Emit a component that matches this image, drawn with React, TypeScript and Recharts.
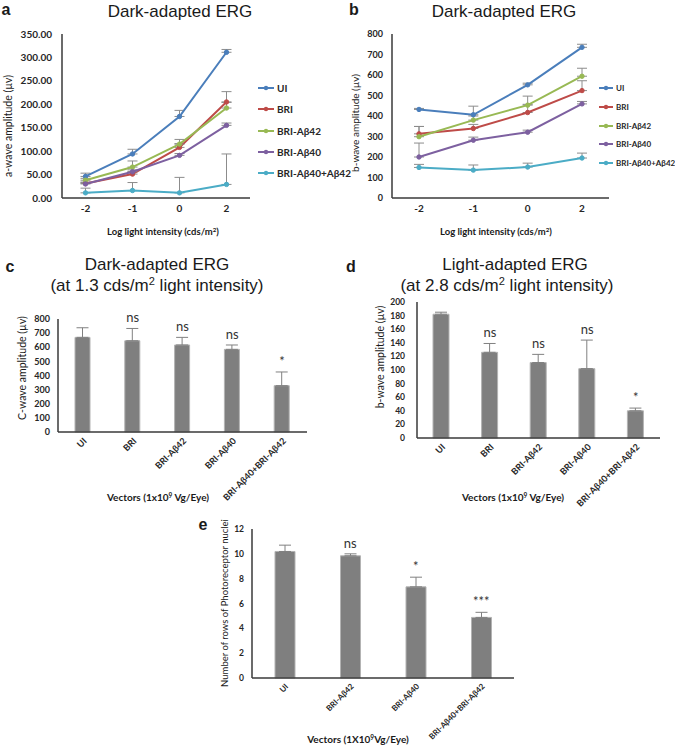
import React from 'react'
import { LineChart, Line, XAxis, YAxis, ErrorBar, ComposedChart, Bar, LabelList } from 'recharts'

const intensities = ['-2', '-1', '0', '2']
const groups = ['UI', 'BRI', 'BRI-Aβ42', 'BRI-Aβ40', 'BRI-Aβ40+Aβ42']
const groupColors = ['#4a7ebb', '#be4b48', '#98b954', '#7d60a0', '#4bacc6']

// a: dark-adapted a-wave (µv), one row per group, one column per intensity
const aWave = [
  [46, 94, 174, 311],
  [31, 51, 108, 205],
  [38, 66, 115, 192],
  [30, 56, 91, 155],
  [11, 16, 11, 29],
]
const aWaveErr = [
  [7, 10, 13, 6],
  [3, 5, 8, 22],
  [4, 13, 10, 12],
  [3, 4, 4, 5],
  [10, 17, 33, 65],
]
const aTicks = [0, 50, 100, 150, 200, 250, 300, 350]

// b: dark-adapted b-wave (µv)
const bWave = [
  [432, 406, 552, 735],
  [313, 339, 417, 524],
  [299, 380, 453, 594],
  [200, 282, 321, 459],
  [149, 136, 151, 195],
]
const bWaveErr = [
  [5, 42, 8, 15],
  [36, 20, 40, 48],
  [50, 20, 44, 39],
  [68, 15, 10, 12],
  [15, 25, 19, 24],
]
const bTicks = [0, 100, 200, 300, 400, 500, 600, 700, 800]

// c: c-wave at 1.3 cds/m2
const vectors5 = ['UI', 'BRI', 'BRI-Aβ42', 'BRI-Aβ40', 'BRI-Aβ40+BRI-Aβ42']
const cWave = [670, 646, 616, 585, 328]
const cWaveErr = [68, 87, 54, 31, 97]
const cSig = ['', 'ns', 'ns', 'ns', '*']
const cTicks = [0, 100, 200, 300, 400, 500, 600, 700, 800]

// d: light-adapted b-wave at 2.8 cds/m2
const dWave = [182, 126, 111, 102, 40]
const dWaveErr = [3, 13, 12, 42, 4]
const dSig = ['', 'ns', 'ns', 'ns', '*']
const dTicks = [0, 20, 40, 60, 80, 100, 120, 140, 160, 180, 200]

// e: rows of photoreceptor nuclei
const vectors4 = ['UI', 'BRI-Aβ42', 'BRI-Aβ40', 'BRI-Aβ40+BRI-Aβ42']
const nucleiRows = [10.19, 9.84, 7.34, 4.88]
const nucleiRowsErr = [0.51, 0.16, 0.78, 0.41]
const eSig = ['', 'ns', '*', '***']
const eTicks = [0, 2, 4, 6, 8, 10, 12]

const lineRows = (mean: number[][], err: number[][]) =>
  intensities.map((x, i) => {
    const row: Record<string, unknown> = { x }
    groups.forEach((_, s) => {
      row['s' + s] = mean[s][i]
      row['e' + s] = [0, err[s][i]]
    })
    return row
  })

const barRows = (cats: string[], mean: number[], err: number[], sig: string[]) =>
  cats.map((name, i) => ({ name, v: mean[i], err: [0, err[i]], top: mean[i] + err[i], sig: sig[i] }))

const tickFont = { fontFamily: 'Lato', fontWeight: 700, fill: '#262626' }
const axisStyle = { stroke: '#3a3a3a', strokeWidth: 1.5 }

function LinePanel(p: {
  left: number; top: number; width: number; height: number
  yWidth: number; mTop: number; mRight: number; xHeight: number; pad: number
  rows: Record<string, unknown>[]; max: number; ticks: number[]; fmt: (v: number) => string; yFont: number; xFont: number; tickGap: number
}) {
  return (
    <div style={{ position: 'absolute', left: p.left, top: p.top }}>
      <LineChart width={p.width} height={p.height} data={p.rows} margin={{ top: p.mTop, right: p.mRight, left: 0, bottom: 0 }}>
        <XAxis dataKey="x" height={p.xHeight} padding={{ left: p.pad, right: p.pad }} tickLine={false} tickSize={0} tickMargin={7}
          axisLine={axisStyle} tick={{ ...tickFont, fontSize: p.xFont }} interval={0} />
        <YAxis type="number" domain={[0, p.max]} ticks={p.ticks} width={p.yWidth} tickLine={false} tickSize={0} tickMargin={p.tickGap}
          axisLine={axisStyle} tick={{ ...tickFont, fontSize: p.yFont }} tickFormatter={p.fmt} interval={0} />
        {groups.map((g, s) => (
          <Line key={g} dataKey={'s' + s} stroke={groupColors[s]} strokeWidth={2}
            dot={{ r: 2.2, fill: groupColors[s], stroke: groupColors[s], strokeWidth: 1 }} isAnimationActive={false}>
            <ErrorBar dataKey={'e' + s} width={5} stroke="#8c8c8c" strokeWidth={1} direction="y" />
          </Line>
        ))}
      </LineChart>
    </div>
  )
}

function BarPanel(p: {
  left: number; top: number; width: number; height: number
  yWidth: number; mTop: number; mRight: number; xHeight: number
  rows: ReturnType<typeof barRows>; max: number; ticks: number[]; barSize: number; yFont: number; xFont: number; tickGap: number
}) {
  return (
    <div style={{ position: 'absolute', left: p.left, top: p.top }}>
      <ComposedChart width={p.width} height={p.height} data={p.rows} margin={{ top: p.mTop, right: p.mRight, left: 0, bottom: 0 }}>
        <XAxis dataKey="name" height={p.xHeight} tickLine={false} tickSize={0} tickMargin={5} axisLine={axisStyle} interval={0}
          tick={{ ...tickFont, fontSize: p.xFont, angle: -45, textAnchor: 'end', verticalAnchor: 'middle' }} />
        <YAxis type="number" domain={[0, p.max]} ticks={p.ticks} width={p.yWidth} tickLine={false} tickSize={0} tickMargin={p.tickGap}
          axisLine={axisStyle} tick={{ ...tickFont, fontSize: p.yFont }} interval={0} />
        <Bar dataKey="v" barSize={p.barSize} fill="#7f7f7f" stroke="#b3b3b3" strokeWidth={1} isAnimationActive={false}>
          <ErrorBar dataKey="err" width={6} stroke="#808080" strokeWidth={1} direction="y" />
        </Bar>
        <Line dataKey="top" stroke="none" dot={false} activeDot={false} isAnimationActive={false}>
          <LabelList dataKey="sig" position="top" offset={6} fontFamily="Lato" fontSize={13} fill="#333" />
        </Line>
      </ComposedChart>
    </div>
  )
}

function Txt({ x, y, size, bold, family = 'Lato', rotate, children }: {
  x: number; y: number; size: number; bold?: boolean; family?: string; rotate?: boolean; children: React.ReactNode
}) {
  return (
    <div style={{
      position: 'absolute', left: x, top: y, whiteSpace: 'nowrap', fontFamily: family, fontSize: size,
      fontWeight: bold ? 700 : 400, color: '#1a1a1a', lineHeight: 1,
      transform: `translate(-50%, -50%)${rotate ? ' rotate(-90deg)' : ''}`,
    }}>{children}</div>
  )
}

function SeriesLegend({ left, top, gap, size, icon }: { left: number; top: number; gap: number; size: number; icon: number }) {
  return (
    <>
      {groups.map((g, i) => (
        <div key={g} style={{
          position: 'absolute', left, top: top + i * gap, display: 'flex', alignItems: 'center',
          whiteSpace: 'nowrap', transform: 'translateY(-50%)',
        }}>
          <svg width={icon} height={6}>
            <line x1={0} y1={3} x2={icon} y2={3} stroke={groupColors[i]} strokeWidth={2} />
            <circle cx={icon / 2} cy={3} r={2.2} fill={groupColors[i]} />
          </svg>
          <span style={{ marginLeft: 3, fontFamily: 'Lato', fontWeight: 700, fontSize: size, color: '#262626' }}>{g}</span>
        </div>
      ))}
    </>
  )
}

const sup = (s: string) => <span style={{ fontSize: '0.65em', verticalAlign: '0.5em' }}>{s}</span>

export default function App() {
  const title = 'Liberation Sans'
  return (
    <div style={{ position: 'absolute', left: 0, top: 0, width: 675, height: 746, background: '#fff', overflow: 'hidden' }}>
      <LinePanel left={0} top={0} width={340} height={245} yWidth={62} mTop={34} mRight={90} xHeight={47} pad={23.5}
        rows={lineRows(aWave, aWaveErr)} max={350} ticks={aTicks} fmt={(v) => v.toFixed(2)} yFont={10} xFont={10} tickGap={10} />
      <LinePanel left={330} top={0} width={345} height={245} yWidth={62} mTop={34} mRight={66} xHeight={47} pad={27}
        rows={lineRows(bWave, bWaveErr)} max={800} ticks={bTicks} fmt={(v) => String(v)} yFont={9} xFont={10} tickGap={9} />
      <BarPanel left={0} top={250} width={340} height={272} yWidth={58} mTop={69} mRight={33} xHeight={90}
        rows={barRows(vectors5, cWave, cWaveErr, cSig)} max={800} ticks={cTicks} barSize={15} yFont={9} xFont={9} tickGap={8} />
      <BarPanel left={330} top={250} width={345} height={272} yWidth={87} mTop={52} mRight={15} xHeight={84}
        rows={barRows(vectors5, dWave, dWaveErr, dSig)} max={200} ticks={dTicks} barSize={16} yFont={8.5} xFont={9} tickGap={12} />
      <BarPanel left={200} top={500} width={330} height={246} yWidth={52} mTop={29} mRight={16} xHeight={68}
        rows={barRows(vectors4, nucleiRows, nucleiRowsErr, eSig)} max={12} ticks={eTicks} barSize={20} yFont={8.5} xFont={8} tickGap={8} />

      <SeriesLegend left={258} top={88} gap={21.3} size={10} icon={16} />
      <SeriesLegend left={599} top={88} gap={18.8} size={8} icon={14} />

      <Txt x={6} y={10} size={16} bold family="Liberation Sans">a</Txt>
      <Txt x={180} y={11} size={17} family={title}>Dark-adapted ERG</Txt>
      <Txt x={8} y={126} size={10.5} rotate>a-wave amplitude (µv)</Txt>
      <Txt x={163} y={232} size={9.5} bold>Log light intensity (cds/m{sup('2')})</Txt>

      <Txt x={354} y={10} size={16} bold family="Liberation Sans">b</Txt>
      <Txt x={504} y={11} size={17} family={title}>Dark-adapted ERG</Txt>
      <Txt x={355} y={123} size={10} rotate>b-wave amplitude (µv)</Txt>
      <Txt x={496} y={232} size={9.5} bold>Log light intensity (cds/m{sup('2')})</Txt>

      <Txt x={10} y={267} size={16} bold family="Liberation Sans">c</Txt>
      <Txt x={157} y={264} size={17} family={title}>Dark-adapted ERG</Txt>
      <Txt x={157} y={285} size={17} family={title}>(at 1.3 cds/m{sup('2')} light intensity)</Txt>
      <Txt x={22} y={368} size={10.5} rotate>C-wave amplitude (µv)</Txt>
      <Txt x={158} y={497} size={10} bold>Vectors (1x10{sup('9')} Vg/Eye)</Txt>

      <Txt x={351} y={267} size={16} bold family="Liberation Sans">d</Txt>
      <Txt x={515} y={264} size={17} family={title}>Light-adapted ERG</Txt>
      <Txt x={507} y={285} size={17} family={title}>(at 2.8 cds/m{sup('2')} light intensity)</Txt>
      <Txt x={380} y={357} size={10.5} rotate>b-wave amplitude (µv)</Txt>
      <Txt x={513} y={497} size={10} bold>Vectors (1x10{sup('9')} Vg/Eye)</Txt>

      <Txt x={203} y={525} size={16} bold family="Liberation Sans">e</Txt>
      <Txt x={225} y={603} size={9.5} rotate>Number of rows of Photoreceptor nuclei</Txt>
      <Txt x={358} y={739} size={10} bold>Vectors (1X10{sup('9')}Vg/Eye)</Txt>
    </div>
  )
}
